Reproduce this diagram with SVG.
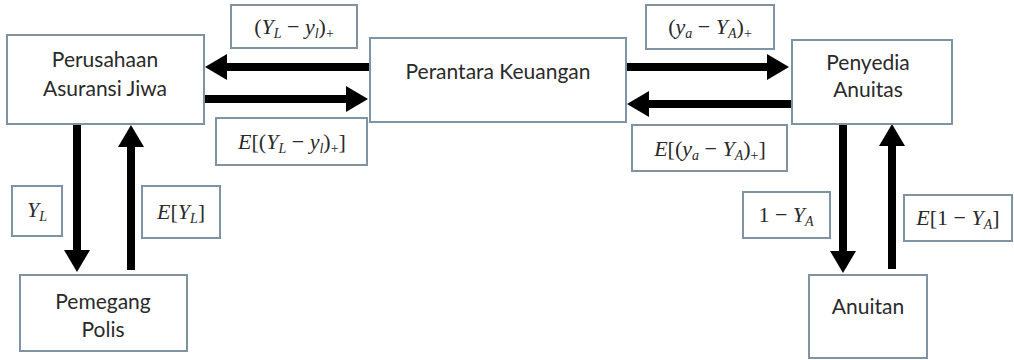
<svg xmlns="http://www.w3.org/2000/svg" width="1014" height="360" viewBox="0 0 1014 360">
<defs>
<marker id="ah" markerUnits="userSpaceOnUse" markerWidth="24" markerHeight="28" refX="0" refY="13" orient="auto" viewBox="0 0 24 28">
<path d="M0,0 L22,13 L0,26 z" fill="#000"/>
</marker>
<style>
.box{fill:#fff;stroke:#8093a4;stroke-width:2}
.t{font-family:Lato,"Liberation Sans",sans-serif;font-size:21px;fill:#2a2a2a;text-anchor:middle}
.m{font-family:"Liberation Serif","DejaVu Serif",serif;font-size:22px;font-style:italic;fill:#2a2a2a;text-anchor:middle}
.n{font-style:normal}
.s{font-size:14px}
.arr{stroke:#000;stroke-width:8;fill:none;marker-end:url(#ah)}
</style>
</defs>
<rect width="1014" height="360" fill="#fff"/>
<g id="connectors">
<line class="arr" x1="369" y1="67" x2="227" y2="67"/>
<line class="arr" x1="205" y1="99" x2="346" y2="99"/>
<line class="arr" x1="627" y1="67" x2="767" y2="67"/>
<line class="arr" x1="791" y1="104" x2="649" y2="104"/>
<line class="arr" x1="77" y1="125" x2="77" y2="250"/>
<line class="arr" x1="131" y1="270" x2="131" y2="147"/>
<line class="arr" x1="843" y1="125" x2="843" y2="251"/>
<line class="arr" x1="892" y1="269" x2="892" y2="146"/>
</g>
<g id="perusahaan">
<rect class="box" x="7" y="35" width="197" height="89"/>
<text class="t" x="105" y="67">Perusahaan</text>
<text class="t" x="105" y="96">Asuransi Jiwa</text>
</g>
<g id="perantara">
<rect class="box" x="370" y="38" width="256" height="84"/>
<text class="t" x="498" y="79">Perantara Keuangan</text>
</g>
<g id="penyedia">
<rect class="box" x="792" y="40" width="160" height="84"/>
<text class="t" x="868" y="70">Penyedia</text>
<text class="t" x="868" y="97">Anuitas</text>
</g>
<g id="pemegang">
<rect class="box" x="20" y="275" width="167" height="76"/>
<text class="t" x="103" y="309">Pemegang</text>
<text class="t" x="103" y="337">Polis</text>
</g>
<g id="anuitan">
<rect class="box" x="809" y="275" width="118" height="83"/>
<text class="t" x="868" y="314">Anuitan</text>
</g>
<g id="label-yl-plus">
<rect class="box" x="231" y="5" width="126" height="43"/>
<text class="m" x="294" y="34"><tspan class="n">(</tspan>Y<tspan class="s" dy="4">L</tspan><tspan class="n" dy="-4"> − </tspan>y<tspan class="s" dy="4">l</tspan><tspan class="n" dy="-4">)</tspan><tspan class="s n" dy="4">+</tspan></text>
</g>
<g id="label-e-yl-plus">
<rect class="box" x="216" y="118" width="151" height="47"/>
<text class="m" x="292" y="149">E<tspan class="n">[(</tspan>Y<tspan class="s" dy="4">L</tspan><tspan class="n" dy="-4"> − </tspan>y<tspan class="s" dy="4">l</tspan><tspan class="n" dy="-4">)</tspan><tspan class="s n" dy="4">+</tspan><tspan class="n" dy="-4">]</tspan></text>
</g>
<g id="label-ya-plus">
<rect class="box" x="646" y="5" width="128" height="44"/>
<text class="m" x="710" y="34"><tspan class="n">(</tspan>y<tspan class="s" dy="4">a</tspan><tspan class="n" dy="-4"> − </tspan>Y<tspan class="s" dy="4">A</tspan><tspan class="n" dy="-4">)</tspan><tspan class="s n" dy="4">+</tspan></text>
</g>
<g id="label-e-ya-plus">
<rect class="box" x="632" y="125" width="155" height="46"/>
<text class="m" x="710" y="156">E<tspan class="n">[(</tspan>y<tspan class="s" dy="4">a</tspan><tspan class="n" dy="-4"> − </tspan>Y<tspan class="s" dy="4">A</tspan><tspan class="n" dy="-4">)</tspan><tspan class="s n" dy="4">+</tspan><tspan class="n" dy="-4">]</tspan></text>
</g>
<g id="label-yl">
<rect class="box" x="12" y="186" width="50" height="50"/>
<text class="m" x="37" y="217">Y<tspan class="s" dy="4">L</tspan></text>
</g>
<g id="label-e-yl">
<rect class="box" x="142" y="186" width="78" height="52"/>
<text class="m" x="181" y="219">E<tspan class="n">[</tspan>Y<tspan class="s" dy="4">L</tspan><tspan class="n" dy="-4">]</tspan></text>
</g>
<g id="label-1-ya">
<rect class="box" x="743" y="192" width="87" height="46"/>
<text class="m" x="786" y="222"><tspan class="n">1 − </tspan>Y<tspan class="s" dy="4">A</tspan></text>
</g>
<g id="label-e-1-ya">
<rect class="box" x="904" y="195" width="108" height="46"/>
<text class="m" x="958" y="225">E<tspan class="n">[1 − </tspan>Y<tspan class="s" dy="4">A</tspan><tspan class="n" dy="-4">]</tspan></text>
</g>
</svg>
